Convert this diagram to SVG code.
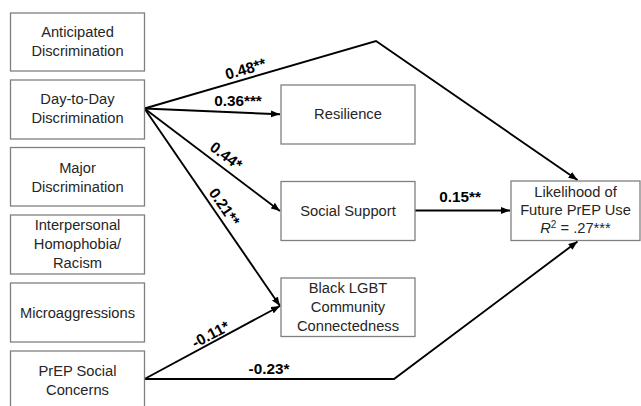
<svg xmlns="http://www.w3.org/2000/svg" width="641" height="406" viewBox="0 0 641 406">
<defs>
<style>
.box{fill:#fff;stroke:#808080;stroke-width:1.3}
.t{font-family:"Liberation Sans",Arial,sans-serif;font-size:14.7px;fill:#262626;text-anchor:middle}
.lab{font-family:"Liberation Sans",Arial,sans-serif;font-size:15.3px;font-weight:bold;fill:#000;text-anchor:middle}
.c{fill:none;stroke:#000;stroke-width:1.9}
</style>
<marker id="ah" markerUnits="userSpaceOnUse" markerWidth="10" markerHeight="8" refX="9" refY="4" orient="auto">
<path d="M0,0.5 L9,4 L0,7.5 Z" fill="#000"/>
</marker>
</defs>
<rect width="641" height="406" fill="#fff"/>
<g id="connectors">
<polyline class="c" points="144.5,108.5 376,41 577.5,180" marker-end="url(#ah)"/>
<line class="c" x1="144.5" y1="108.5" x2="280" y2="114.3" marker-end="url(#ah)"/>
<line class="c" x1="144.5" y1="108.5" x2="280" y2="211" marker-end="url(#ah)"/>
<line class="c" x1="144.5" y1="108.5" x2="280" y2="306" marker-end="url(#ah)"/>
<line class="c" x1="144.5" y1="379" x2="280" y2="306" marker-end="url(#ah)"/>
<polyline class="c" points="144.5,379 394,379 577.5,241.5" marker-end="url(#ah)"/>
<line class="c" x1="415" y1="210.5" x2="510" y2="210.5" marker-end="url(#ah)"/>
<text class="lab" transform="translate(247,74) rotate(-16.3)">0.48**</text>
<text class="lab" x="238" y="106">0.36***</text>
<text class="lab" transform="translate(223,160) rotate(36.9)">0.44*</text>
<text class="lab" transform="translate(220,210) rotate(55.4)">0.21**</text>
<text class="lab" transform="translate(213,339) rotate(-28.1)">-0.11*</text>
<text class="lab" x="269" y="374">-0.23*</text>
<text class="lab" x="460" y="201.5">0.15**</text>
</g>
<g id="anticipated">
<rect class="box" x="10.5" y="13" width="134" height="58"/>
<text class="t" x="77.5" y="37">Anticipated</text>
<text class="t" x="77.5" y="55.5">Discrimination</text>
</g>
<g id="daytoday">
<rect class="box" x="10.5" y="80" width="134" height="59"/>
<text class="t" x="77.5" y="104">Day-to-Day</text>
<text class="t" x="77.5" y="122.5">Discrimination</text>
</g>
<g id="major">
<rect class="box" x="10.5" y="147.5" width="134" height="58.5"/>
<text class="t" x="77.5" y="173">Major</text>
<text class="t" x="77.5" y="191.5">Discrimination</text>
</g>
<g id="interpersonal">
<rect class="box" x="10.5" y="215" width="134" height="59"/>
<text class="t" x="77.5" y="230">Interpersonal</text>
<text class="t" x="77.5" y="249">Homophobia/</text>
<text class="t" x="77.5" y="268">Racism</text>
</g>
<g id="microaggressions">
<rect class="box" x="10.5" y="283" width="134" height="59"/>
<text class="t" x="77.5" y="318">Microaggressions</text>
</g>
<g id="prep">
<rect class="box" x="10.5" y="351" width="134" height="62"/>
<text class="t" x="77.5" y="376">PrEP Social</text>
<text class="t" x="77.5" y="395">Concerns</text>
</g>
<g id="resilience">
<rect class="box" x="281" y="85" width="134" height="59"/>
<text class="t" x="348" y="119">Resilience</text>
</g>
<g id="socialsupport">
<rect class="box" x="281" y="181.5" width="134" height="59"/>
<text class="t" x="348" y="216">Social Support</text>
</g>
<g id="blacklgbt">
<rect class="box" x="281" y="278" width="134" height="58.5"/>
<text class="t" x="348" y="293">Black LGBT</text>
<text class="t" x="348" y="312">Community</text>
<text class="t" x="348" y="331">Connectedness</text>
</g>
<g id="likelihood">
<rect class="box" x="511" y="181" width="129" height="59.5"/>
<text class="t" x="575.5" y="197">Likelihood of</text>
<text class="t" x="575.5" y="215">Future PrEP Use</text>
<text class="t" x="575.5" y="233"><tspan font-style="italic">R</tspan><tspan font-size="10" dy="-5">2</tspan><tspan dy="5"> = .27***</tspan></text>
</g>
</svg>
